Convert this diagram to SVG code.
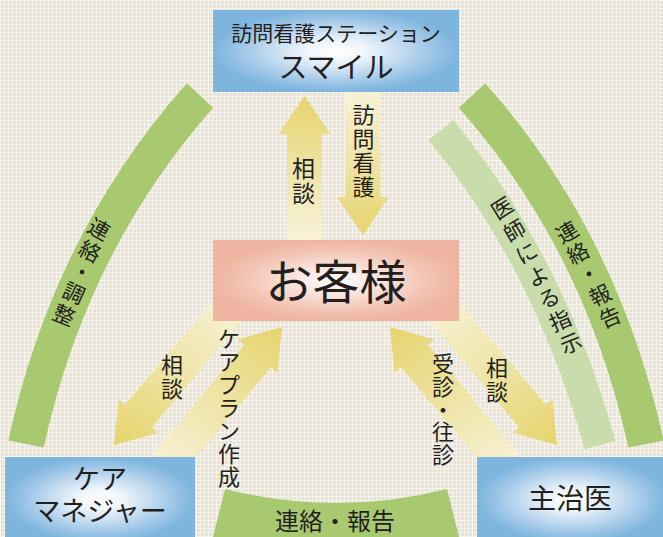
<svg xmlns="http://www.w3.org/2000/svg" width="663" height="537" viewBox="0 0 663 537">
<defs>
<pattern id="linen" width="4" height="4" patternUnits="userSpaceOnUse">
<rect width="4" height="4" fill="#e9e3d6"/>
<path d="M0 0.5H4M0.5 0V4" stroke="#f7f4ee" stroke-width="1"/>
</pattern>
<radialGradient id="gBlue" cx="0.5" cy="0.5" r="0.5">
<stop offset="0" stop-color="#ffffff"/>
<stop offset="0.25" stop-color="#eef5fb"/>
<stop offset="0.75" stop-color="#a2c8e8"/>
<stop offset="1" stop-color="#7db5de"/>
</radialGradient>
<radialGradient id="gPink" cx="0.5" cy="0.5" r="0.5">
<stop offset="0" stop-color="#ffffff"/>
<stop offset="0.25" stop-color="#fbebe5"/>
<stop offset="0.75" stop-color="#f2c4b4"/>
<stop offset="1" stop-color="#f0b5a2"/>
</radialGradient>
<linearGradient id="gArrow" x1="0" y1="0" x2="1" y2="0">
<stop offset="0" stop-color="#f8f4dc"/>
<stop offset="0.45" stop-color="#f0e6ae"/>
<stop offset="1" stop-color="#e6d46c"/>
</linearGradient>
<path id="arrow150" d="M0,-17.5 H112 V-26 L150,0 L112,26 V17.5 H0 Z"/>
<path id="arrow200" d="M0,-17.5 H162 V-26 L200,0 L162,26 V17.5 H0 Z"/>
</defs>
<style>
.t{font-family:"Noto Sans CJK JP","Noto Sans",sans-serif;fill:#231f1f;}
.c{text-anchor:middle;}
.band{fill:#a8c96f;}
.bandLight{fill:#c9dcab;}
.arr{fill:url(#gArrow);}
</style>
<rect width="663" height="537" fill="url(#linen)"/>

<g id="connectors">
<g id="arc-left">
<path class="band" d="M186.8,83.2 Q53.3,233.5 8.3,440.6 L43.7,447.4 Q86.7,250.5 213.2,107.8 Z"/>
<text class="t" font-size="21.5" x="85.64 76.71 68.78 60.86 50.97" y="230.94 253.4 274.74 296.09 318.55" rotate="29 27 25.5 24 22">連絡・調整</text>
</g>
<g id="arc-right">
<path class="band" transform="matrix(-1 0 0 1 672 0)" d="M186.8,83.2 Q53.3,233.5 8.3,440.6 L43.7,447.4 Q86.7,250.5 213.2,107.8 Z"/>
<text class="t" font-size="21.5" x="561.77 572.35 583.03 593.71 603.29" y="244.45 265.26 286.11 306.94 328.72" rotate="-30 -28 -26.5 -25 -23">連絡・報告</text>
</g>
<g id="arc-light">
<path class="bandLight" d="M453.4,119.9 Q564,255 615.4,440.7 L584.6,449.3 Q535,270 428.6,140.1 Z"/>
<text class="t" font-size="21.5" x="497.21 509.34 520.99 532.13 542.77 553.44 564.09" y="220.62 242.98 265.33 287.66 309.98 332.3 354.6" rotate="-32 -30.3 -28.7 -27 -25.3 -23.7 -22">医師による指示</text>
</g>
<g id="arc-bottom">
<path class="band" d="M225,489 Q336,517 447,489 L461,545 L211,545 Z"/>
<text class="t c" font-size="24" x="335" y="530">連絡・報告</text>
</g>
<g id="arrow-top-up">
<use href="#arrow150" class="arr" transform="translate(304.5,96) rotate(-90) translate(-150,0)"/>
<text class="t c" font-size="23" x="303.5 303.5" y="176.7 201.7">相談</text>
</g>
<g id="arrow-top-down">
<use href="#arrow150" class="arr" transform="translate(363,235) rotate(90) translate(-150,0)"/>
<text class="t c" font-size="22" x="363.5 363.5 363.5 363.5" y="123.4 147.4 171.4 195.4">訪問看護</text>
</g>
<g id="arrow-left-down">
<use href="#arrow200" class="arr" transform="translate(114,445) rotate(130.2) translate(-200,0)"/>
<text class="t c" font-size="22" x="172 172" y="373.4 397.4">相談</text>
</g>
<g id="arrow-left-up">
<use href="#arrow200" class="arr" transform="translate(282,327) rotate(-50) translate(-200,0)"/>
<text class="t c" font-size="22" x="229 229 229 229 229 229 229" y="347.4 370.4 393.4 416.4 439.4 462.4 485.4">ケアプラン作成</text>
</g>
<g id="arrow-right-down">
<use href="#arrow200" class="arr" transform="translate(557,445) rotate(49.8) translate(-200,0)"/>
<text class="t c" font-size="22" x="497 497" y="376.4 400.4">相談</text>
</g>
<g id="arrow-right-up">
<use href="#arrow200" class="arr" transform="translate(390,327) rotate(-130) translate(-200,0)"/>
<text class="t c" font-size="22" x="443 443 443 443 443" y="372.4 395.4 418.4 440.4 463.4">受診・往診</text>
</g>
</g>

<g id="node-station">
<rect x="213" y="10" width="246" height="82" fill="url(#gBlue)"/>
<text class="t c" font-size="21" x="336" y="41">訪問看護ステーション</text>
<text class="t c" font-size="29" x="336" y="78">スマイル</text>
</g>
<g id="node-customer">
<rect x="213" y="240" width="246" height="81" fill="url(#gPink)"/>
<text class="t c" font-size="47" x="336" y="299">お客様</text>
</g>
<g id="node-caremanager">
<rect x="5" y="457" width="190" height="85" fill="url(#gBlue)"/>
<text class="t c" font-size="27"><tspan x="100" y="489">ケア</tspan><tspan x="100" y="521">マネジャー</tspan></text>
</g>
<g id="node-doctor">
<rect x="477" y="457" width="190" height="85" fill="url(#gBlue)"/>
<text class="t c" font-size="28" x="570" y="509">主治医</text>
</g>
</svg>
